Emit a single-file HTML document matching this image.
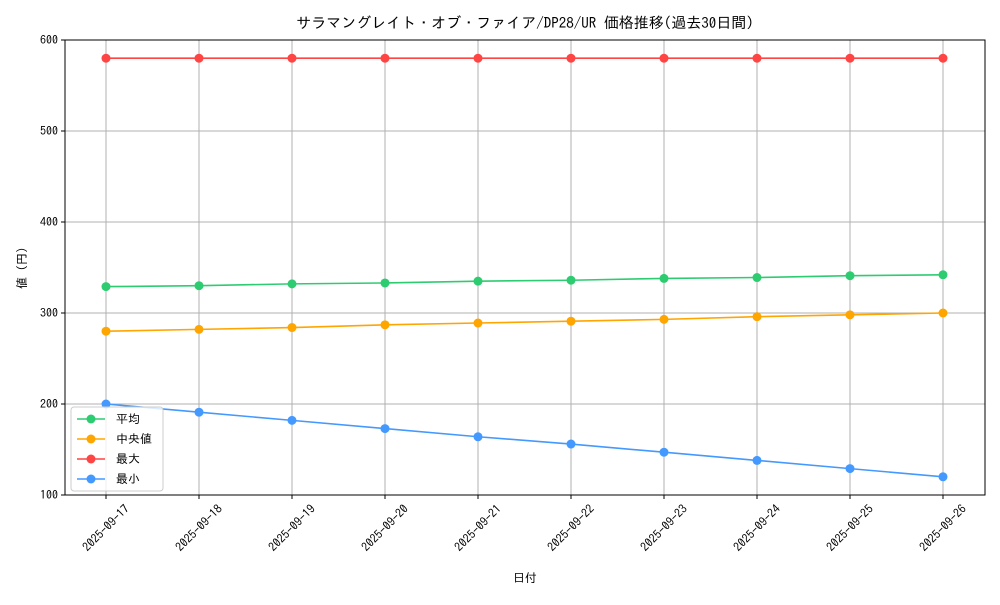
<!DOCTYPE html>
<html><head><meta charset="utf-8"><style>
body{margin:0;background:#fff;}
svg text{font-family:"IPAGothic","Liberation Sans","Noto Sans CJK JP",sans-serif;fill:#000;}
</style></head><body>
<svg id="chart" width="1000" height="600" xmlns="http://www.w3.org/2000/svg">
<rect width="1000" height="600" fill="#fff"/>
<text x="525" y="28" font-size="15" text-anchor="middle">サラマングレイト・オブ・ファイア/DP28/UR 価格推移(過去30日間)</text>
<g id="grid"></g><g id="axes"></g><g id="series"></g>
<text x="525" y="582" font-size="12" text-anchor="middle">日付</text>
<text x="0" y="0" font-size="12" text-anchor="middle" transform="translate(26,268) rotate(-90)">値 (円)</text>
<g id="legend"></g>
</svg>
<script>
const dates=["2025-09-17","2025-09-18","2025-09-19","2025-09-20","2025-09-21","2025-09-22","2025-09-23","2025-09-24","2025-09-25","2025-09-26"];
const avgVals=[329,330,332,333,335,336,338,339,341,342];
const medVals=[280,282,284,287,289,291,293,296,298,300];
const maxVals=[580,580,580,580,580,580,580,580,580,580];
const minVals=[200,191,182,173,164,156,147,138,129,120];
const yTicks=[100,200,300,400,500,600];
const seriesNames=["平均","中央値","最大","最小"];
const NS="http://www.w3.org/2000/svg";
const L=65,R=985,T=40,B=495;
function xs(i){return 106+i*(943-106)/(dates.length-1);}
function ys(v){return 495-(v-100)*0.91;}
function mk(tag,attrs,parent){const e=document.createElementNS(NS,tag);for(const k in attrs)e.setAttribute(k,attrs[k]);parent.appendChild(e);return e;}
const grid=document.getElementById('grid'),axes=document.getElementById('axes'),ser=document.getElementById('series'),leg=document.getElementById('legend');
dates.forEach((d,i)=>{
 const g=mk('line',{x1:xs(i),x2:xs(i),y1:T,y2:B,stroke:'#b0b0b0','stroke-width':1},grid);
 
 
 const t=mk('line',{x1:xs(i),x2:xs(i),y1:B,y2:B+4,stroke:'#000'},axes);
 
 
 const x=xs(i),y=B+33;
 const tx=mk('text',{x:x,y:y+4,'font-size':12,'text-anchor':'middle',transform:`rotate(-45 ${x} ${y})`},axes);
 tx.textContent=d;
 
 
});
yTicks.forEach(v=>{
 const g=mk('line',{x1:L,x2:R,y1:ys(v),y2:ys(v),stroke:'#b0b0b0','stroke-width':1},grid);
 
 
 const t=mk('line',{x1:L-4,x2:L,y1:ys(v),y2:ys(v),stroke:'#000'},axes);
 
 
 const tx=mk('text',{x:L-7,y:ys(v)+4,'font-size':12,'text-anchor':'end'},axes);
 tx.textContent=v;
 
 
});
const frame=mk('rect',{x:L,y:T,width:R-L,height:B-T,fill:'none',stroke:'#000','stroke-width':1},axes);


const all=[[avgVals,'#2ecc71','avg'],[medVals,'#ffa500','median'],[maxVals,'#ff4444','max'],[minVals,'#4499ff','min']];
all.forEach(([vals,c,n])=>{
 const g=mk('g',{},ser);
 
 
 const p=mk('polyline',{points:vals.map((v,i)=>xs(i)+','+ys(v)).join(' '),fill:'none',stroke:c,'stroke-width':1.6},g);
 
 
 vals.forEach((v,i)=>{
  const m=mk('circle',{cx:xs(i),cy:ys(v),r:4.5,fill:c},g);
  
  
 });
});
const box=mk('rect',{x:71,y:407,width:92,height:84,rx:3,fill:'#fff','fill-opacity':0.8,stroke:'#ccc'},leg);


all.forEach(([vals,c,n],k)=>{
 const y=419+k*20;
 const g=mk('g',{},leg);
 
 
 mk('line',{x1:77,x2:105,y1:y,y2:y,stroke:c,'stroke-width':1.6},g);
 mk('circle',{cx:91,cy:y,r:4.5,fill:c},g);
 const t=mk('text',{x:116,y:y+4,'font-size':12},g);
 t.textContent=seriesNames[k];
});
</script>
</body></html>
